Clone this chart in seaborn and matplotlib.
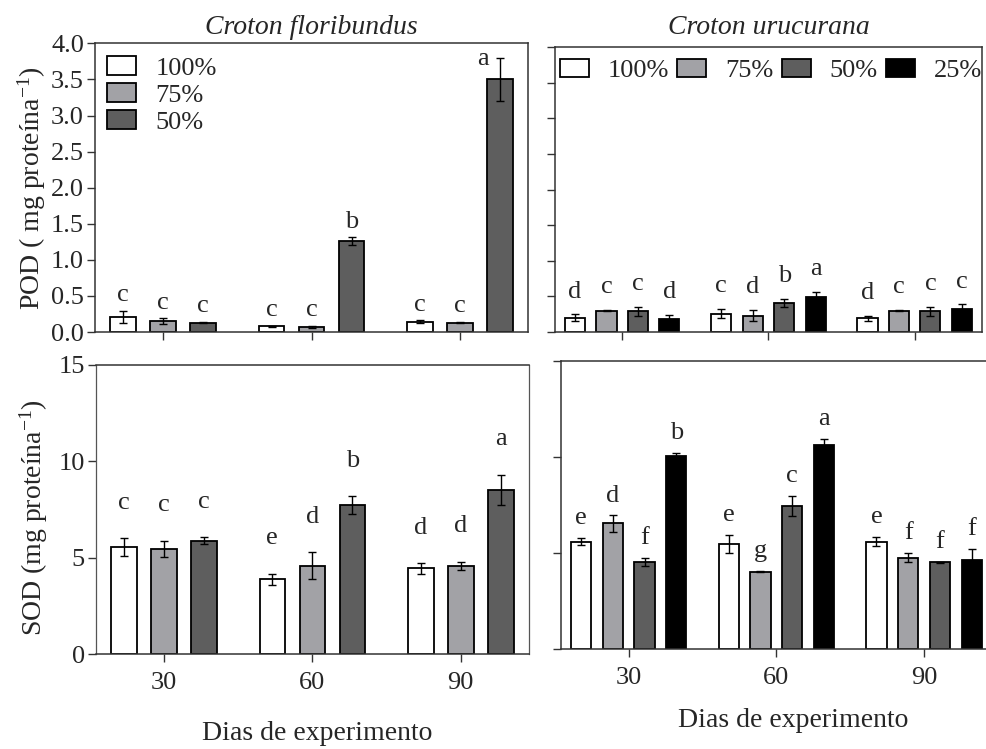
import numpy as np
import pandas as pd
import matplotlib
matplotlib.use("Agg")
import matplotlib.pyplot as plt
from matplotlib.container import BarContainer
import seaborn as sns

# ---- data -------------------------------------------------------------
days = ["30", "60", "90"]
levels_flo = ["100%", "75%", "50%"]
levels_uru = ["100%", "75%", "50%", "25%"]

# rows follow the irrigation levels, columns follow the days
pod_flo = [[0.21, 0.08, 0.14], [0.15, 0.07, 0.13], [0.13, 1.26, 3.50]]
pod_flo_err = [[0.08, 0.01, 0.02], [0.04, 0.02, 0.01], [0.01, 0.05, 0.30]]
pod_flo_letters = [["c", "c", "c"], ["c", "c", "c"], ["c", "b", "a"]]

pod_uru = [[0.20, 0.26, 0.19], [0.30, 0.23, 0.30], [0.29, 0.41, 0.29], [0.18, 0.49, 0.32]]
pod_uru_err = [[0.05, 0.07, 0.04], [0.01, 0.08, 0.01], [0.06, 0.06, 0.06], [0.06, 0.07, 0.07]]
pod_uru_letters = [["d", "c", "d"], ["c", "d", "c"], ["c", "b", "c"], ["d", "a", "c"]]

sod_flo = [[5.56, 3.90, 4.45], [5.46, 4.59, 4.59], [5.90, 7.72, 8.54]]
sod_flo_err = [[0.45, 0.29, 0.28], [0.44, 0.71, 0.22], [0.18, 0.47, 0.78]]
sod_flo_letters = [["c", "e", "d"], ["c", "d", "d"], ["c", "b", "a"]]

sod_uru = [[5.59, 5.47, 5.59], [6.54, 4.04, 4.76], [4.53, 7.46, 4.53], [10.05, 10.60, 4.65]]
sod_uru_err = [[0.19, 0.48, 0.24], [0.42, 0.03, 0.24], [0.21, 0.52, 0.03], [0.17, 0.33, 0.57]]
sod_uru_letters = [["e", "e", "e"], ["d", "g", "f"], ["f", "c", "f"], ["b", "a", "f"]]

colors = {"100%": "#ffffff", "75%": "#a2a2a6", "50%": "#5e5e5e", "25%": "#000000"}

# ---- style ------------------------------------------------------------
sns.set_style("ticks")
plt.rcParams["font.family"] = ["Liberation Serif", "DejaVu Serif"]
plt.rcParams["mathtext.fontset"] = "custom"
plt.rcParams["mathtext.rm"] = "Liberation Serif"
plt.rcParams["mathtext.it"] = "Liberation Serif:italic"
plt.rcParams["axes.edgecolor"] = "#333333"
plt.rcParams["axes.linewidth"] = 1.1

FS = 19
SPINE = "#333333"

fig = plt.figure(figsize=(9.87, 7.49), dpi=100)
ax_tl = fig.add_axes([0.0963, 0.5567, 0.4387, 0.3854])
ax_tr = fig.add_axes([0.5623, 0.5567, 0.4326, 0.3805])
ax_bl = fig.add_axes([0.0970, 0.1264, 0.4390, 0.3863])
ax_br = fig.add_axes([0.5681, 0.1331, 0.4370, 0.3853])


def draw_panel(ax, levels, means, errs, letters, width, gap, letter_pad, ymax):
    df = pd.DataFrame({
        "Dia": [d for _ in levels for d in days],
        "Nivel": [lvl for lvl in levels for _ in days],
        "valor": [v for row in means for v in row],
    })
    sns.barplot(data=df, x="Dia", y="valor", hue="Nivel", order=days,
                hue_order=levels, palette=colors, saturation=1,
                width=width, gap=gap, errorbar=None, edgecolor="black",
                linewidth=1.3, legend=False, ax=ax, zorder=2)
    bars = [c for c in ax.containers if isinstance(c, BarContainer)]
    for i, cont in enumerate(bars):
        for rect in cont.patches:
            cx = rect.get_x() + rect.get_width() / 2
            j = int(round(cx))
            h = rect.get_height()
            e = errs[i][j]
            ax.errorbar(cx, h, yerr=e, fmt="none", ecolor="black",
                        elinewidth=1.0, capsize=3, capthick=1.0, zorder=3)
            if h + e > 0.9 * ymax:
                # no room above the bar: put the letter beside the error cap
                ax.annotate(letters[i][j], (cx, h + e), xytext=(-12, -1),
                            textcoords="offset points", ha="center",
                            va="center", fontsize=FS)
            else:
                ax.annotate(letters[i][j], (cx, h + e), xytext=(0, letter_pad),
                            textcoords="offset points", ha="center",
                            va="baseline", fontsize=FS)
    ax.set_xlim(-0.46, 2.46)
    ax.set_ylim(0, ymax)
    ax.set_xlabel("")
    ax.set_ylabel("")
    ax.tick_params(axis="both", direction="out", length=6, width=1.0,
                   color=SPINE, labelsize=FS, pad=2)
    for s in ax.spines.values():
        s.set_color(SPINE)
        s.set_linewidth(1.1)
    return bars


bars_tl = draw_panel(ax_tl, levels_flo, pod_flo, pod_flo_err, pod_flo_letters, 0.81, 0.36, 7, 4.0)
bars_tr = draw_panel(ax_tr, levels_uru, pod_uru, pod_uru_err, pod_uru_letters, 0.86, 0.36, 12, 4.0)
draw_panel(ax_bl, levels_flo, sod_flo, sod_flo_err, sod_flo_letters, 0.81, 0.36, 21, 15)
draw_panel(ax_br, levels_uru, sod_uru, sod_uru_err, sod_uru_letters, 0.86, 0.36, 10, 15)

# y ticks
for ax in (ax_tl, ax_tr):
    ax.set_yticks(np.arange(0, 4.01, 0.5))
ax_tl.set_yticklabels([f"{v:.1f}" for v in np.arange(0, 4.01, 0.5)])
for ax in (ax_bl, ax_br):
    ax.set_yticks([0, 5, 10, 15])

ax_tr.tick_params(labelleft=False)
ax_br.tick_params(labelleft=False)
ax_tl.tick_params(labelbottom=False)
ax_tr.tick_params(labelbottom=False)
ax_bl.tick_params(axis="x", pad=7)
ax_br.tick_params(axis="x", pad=7)
ax_br.spines["right"].set_visible(False)
for side in ("left", "right"):
    ax_bl.spines[side].set_color("#555555")
    ax_bl.spines[side].set_linewidth(0.9)

# titles
ax_tl.set_title("Croton floribundus", fontsize=20, fontstyle="italic",
                y=1.056, pad=0, va="center")
ax_tr.set_title("Croton urucurana", fontsize=20, fontstyle="italic",
                y=1.070, pad=0, va="center")

# axis labels
ax_tl.set_ylabel("POD ( mg proteína$^{-1}$)", fontsize=20, va="center")
ax_tl.yaxis.set_label_coords(-0.146, 0.497)
ax_bl.set_ylabel("SOD (mg proteína$^{-1}$)", fontsize=20, va="center")
ax_bl.yaxis.set_label_coords(-0.142, 0.471)
ax_bl.set_xlabel("Dias de experimento", fontsize=20, va="center")
ax_bl.xaxis.set_label_coords(0.51, -0.275)
ax_br.set_xlabel("Dias de experimento", fontsize=20, va="center")
ax_br.xaxis.set_label_coords(0.539, -0.248)

# legends
ax_tl.legend(bars_tl, levels_flo, loc="upper left",
             bbox_to_anchor=(0.028, 0.955), frameon=False, fontsize=FS,
             handlelength=1.1, handleheight=0.7, handletextpad=0.72,
             labelspacing=0.13, borderpad=0, borderaxespad=0)
ax_tr.legend(bars_tr, levels_uru, loc="upper left", ncol=4,
             bbox_to_anchor=(0.012, 0.958), frameon=False, fontsize=FS,
             handlelength=1.1, handleheight=0.7, handletextpad=0.72,
             columnspacing=0.3, borderpad=0, borderaxespad=0)

fig.savefig("out.png", dpi=100)
